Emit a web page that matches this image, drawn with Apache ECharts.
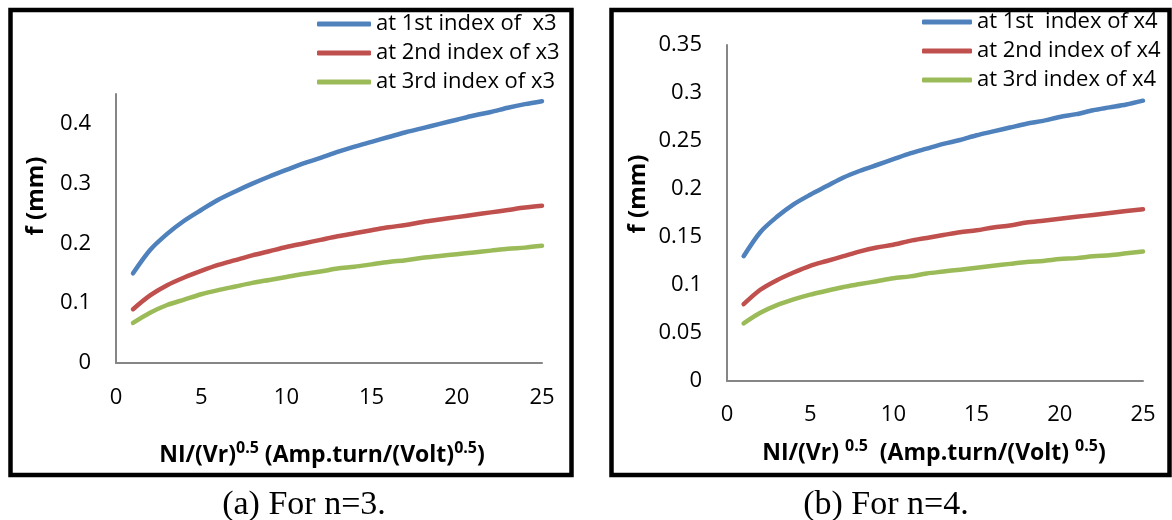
<!DOCTYPE html>
<html>
<head>
<meta charset="utf-8">
<script src="https://cdn.jsdelivr.net/npm/echarts@6/dist/echarts.min.js"></script>
<style>
  html, body { margin: 0; padding: 0; background: #fff; }
  #chart { width: 1172px; height: 520px; }
</style>
</head>
<body>
<div id="chart"></div>
<script>
// Excitation values NI/(Vr)^0.5 shared by both panels
const xValues = [1,2,3,4,5,6,7,8,9,10,11,12,13,14,15,16,17,18,19,20,21,22,23,24,25];

// Panel (a): n = 3
const seriesNamesA = ['at 1st index of  x3', 'at 2nd index of x3', 'at 3rd index of x3'];
const fA1 = [0.150,0.189,0.216,0.238,0.256,0.273,0.287,0.300,0.312,0.323,0.334,0.343,0.353,0.362,0.370,0.378,0.386,0.393,0.400,0.407,0.414,0.420,0.427,0.433,0.438];
const fA2 = [0.090,0.113,0.130,0.143,0.154,0.164,0.172,0.180,0.187,0.194,0.200,0.206,0.212,0.217,0.222,0.227,0.231,0.236,0.240,0.244,0.248,0.252,0.256,0.260,0.263];
const fA3 = [0.067,0.084,0.097,0.106,0.115,0.122,0.128,0.134,0.139,0.144,0.149,0.153,0.158,0.161,0.165,0.169,0.172,0.176,0.179,0.182,0.185,0.188,0.191,0.193,0.196];

// Panel (b): n = 4
const seriesNamesB = ['at 1st  index of x4', 'at 2nd index of x4', 'at 3rd index of x4'];
const fB1 = [0.130,0.155,0.171,0.184,0.194,0.203,0.212,0.219,0.225,0.231,0.237,0.242,0.247,0.251,0.256,0.260,0.264,0.268,0.271,0.275,0.278,0.282,0.285,0.288,0.292];
const fB2 = [0.080,0.095,0.105,0.113,0.120,0.125,0.130,0.135,0.139,0.142,0.146,0.149,0.152,0.155,0.157,0.160,0.162,0.165,0.167,0.169,0.171,0.173,0.175,0.177,0.179];
const fB3 = [0.060,0.071,0.079,0.085,0.090,0.094,0.098,0.101,0.104,0.107,0.109,0.112,0.114,0.116,0.118,0.120,0.122,0.124,0.125,0.127,0.128,0.130,0.131,0.133,0.135];

// Axis tick settings
const xTicks = { min: 0, max: 25, interval: 5 };
const yTicksA = { min: 0, max: 0.45, interval: 0.1 };
const yTicksB = { min: 0, max: 0.35, interval: 0.05 };

const captions = ['(a) For n=3.', '(b) For n=4.'];

const COLORS = ['#4F81BD', '#C0504D', '#9BBB59'];
const FONT = '"Open Sans", sans-serif';
const AXIS_COLOR = '#868686';

function pairs(ys) { return xValues.map((x, i) => [x, ys[i]]); }

function xAxisCfg(gridIndex, margin) {
  return {
    type: 'value', gridIndex, min: xTicks.min, max: xTicks.max, interval: xTicks.interval,
    axisLine: { show: true, lineStyle: { color: AXIS_COLOR, width: 2 } },
    axisTick: { show: false }, splitLine: { show: false },
    axisLabel: { margin, color: '#000', fontFamily: FONT, fontSize: 22 }
  };
}
function yAxisCfg(gridIndex, t, margin) {
  return {
    type: 'value', gridIndex, min: t.min, max: t.max, interval: t.interval,
    axisLine: { show: true, lineStyle: { color: AXIS_COLOR, width: 2 } },
    axisTick: { show: false }, splitLine: { show: false },
    axisLabel: { margin, color: '#000', fontFamily: FONT, fontSize: 22,
                 showMaxLabel: t.max === 0.35,
                 formatter: v => String(+v.toFixed(2)) }
  };
}
function lineSeries(name, data, idx, axisIdx) {
  return {
    type: 'line', name, data: pairs(data), xAxisIndex: axisIdx, yAxisIndex: axisIdx,
    smooth: 0.3, showSymbol: false, symbol: 'none',
    lineStyle: { color: COLORS[idx], width: 4.5, cap: 'round', join: 'round' },
    itemStyle: { color: COLORS[idx] }
  };
}

const xTitleRich = {
  b: { fontFamily: FONT, fontWeight: 'bold', fontSize: 23, fill: '#000', lineHeight: 30 },
  s: { fontFamily: FONT, fontWeight: 'bold', fontSize: 16, fill: '#000', lineHeight: 17, verticalAlign: 'top' }
};

const chart = echarts.init(document.getElementById('chart'), null, { renderer: 'canvas' });

chart.setOption({
  backgroundColor: '#fff',
  animation: false,
  grid: [
    { left: 116, top: 94, width: 426, height: 269, containLabel: false },
    { left: 727, top: 45, width: 416, height: 336, containLabel: false }
  ],
  xAxis: [xAxisCfg(0, 24), xAxisCfg(1, 23)],
  yAxis: [yAxisCfg(0, yTicksA, 25), yAxisCfg(1, yTicksB, 25)],
  legend: [
    {
      data: seriesNamesA, orient: 'vertical', left: 317, top: 12, itemGap: 5,
      itemWidth: 54, itemHeight: 5, icon: 'roundRect', padding: 0,
      textStyle: { fontFamily: FONT, fontSize: 22, color: '#000', lineHeight: 24 }
    },
    {
      data: seriesNamesB, orient: 'vertical', left: 922, top: 10, itemGap: 5,
      itemWidth: 50, itemHeight: 5, icon: 'roundRect', padding: 0,
      textStyle: { fontFamily: FONT, fontSize: 22, color: '#000', lineHeight: 24 }
    }
  ],
  series: [
    lineSeries(seriesNamesA[0], fA1, 0, 0),
    lineSeries(seriesNamesA[1], fA2, 1, 0),
    lineSeries(seriesNamesA[2], fA3, 2, 0),
    lineSeries(seriesNamesB[0], fB1, 0, 1),
    lineSeries(seriesNamesB[1], fB2, 1, 1),
    lineSeries(seriesNamesB[2], fB3, 2, 1)
  ],
  graphic: [
    // panel frames
    { type: 'rect', shape: { x: 10.5, y: 10, width: 561, height: 465 },
      style: { fill: null, stroke: '#000', lineWidth: 4.5 }, z: 100 },
    { type: 'rect', shape: { x: 611.5, y: 10, width: 558, height: 465 },
      style: { fill: null, stroke: '#000', lineWidth: 4.5 }, z: 100 },
    // y axis titles
    { type: 'text', x: 36, y: 196, rotation: Math.PI / 2,
      style: { text: 'f (mm)', font: 'bold 24px "Open Sans", sans-serif', fill: '#000',
               align: 'center', verticalAlign: 'middle' } },
    { type: 'text', x: 638, y: 194, rotation: Math.PI / 2,
      style: { text: 'f (mm)', font: 'bold 24px "Open Sans", sans-serif', fill: '#000',
               align: 'center', verticalAlign: 'middle' } },
    // x axis titles
    { type: 'text', x: 322, y: 455,
      style: { text: '{b|NI/(Vr)}{s|0.5}{b| (Amp.turn/(Volt)}{s|0.5}{b|)}', rich: xTitleRich,
               align: 'center', verticalAlign: 'middle' } },
    { type: 'text', x: 934, y: 453,
      style: { text: '{b|NI/(Vr) }{s|0.5}{b|  (Amp.turn/(Volt) }{s|0.5}{b|)}', rich: xTitleRich,
               align: 'center', verticalAlign: 'middle' } },
    // captions
    { type: 'text', x: 304, y: 505,
      style: { text: captions[0], font: '34px "Liberation Serif", serif', fill: '#000',
               align: 'center', verticalAlign: 'middle' } },
    { type: 'text', x: 886, y: 505,
      style: { text: captions[1], font: '34px "Liberation Serif", serif', fill: '#000',
               align: 'center', verticalAlign: 'middle' } }
  ]
});
</script>
</body>
</html>
